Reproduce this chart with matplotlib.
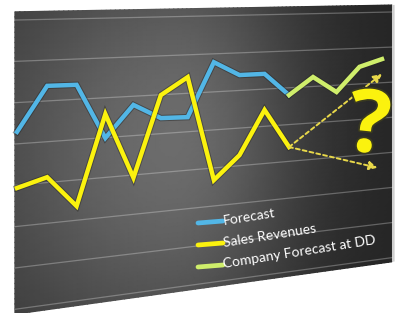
import numpy as np
import matplotlib
matplotlib.use("Agg")
import matplotlib.pyplot as plt
import matplotlib.transforms as mtransforms
import matplotlib.patheffects as pe

# ---------------- data ----------------
x_idx = list(range(15))
forecast = [4.29, 5.37, 5.36, 3.99, 4.78, 4.40, 4.38, 5.78, 5.41, 5.41, 4.80]
sales_revenues = [2.93, 3.13, 2.35, 4.59, 2.93, 4.99, 5.42, 2.68, 3.28, 4.44, 3.39]
company_forecast = [4.80, 5.26, 4.81, 5.48, 5.67]          # x = 10..14
arrow_up_end = (14.0, 5.25)
arrow_down_end = (13.8, 2.60)
grid_values = [0, 1, 2, 3, 4, 5, 6, 7]
legend_labels = ["Forecast", "Sales Revenues", "Company Forecast at DD"]

BLUE = "#52b6e6"
YELLOW = "#fbf20e"
GREEN = "#cfee6b"

W, H = 399, 313
fig = plt.figure(figsize=(W / 100, H / 100), dpi=100)
fig.patch.set_facecolor("white")
ax = fig.add_axes([0, 0, 1, 1])
ax.set_xlim(0, 1)
ax.set_ylim(0, 1)
ax.axis("off")


def homography(src, dst):
    A, b = [], []
    for (x, y), (u, v) in zip(src, dst):
        A.append([x, y, 1, 0, 0, 0, -u * x, -u * y]); b.append(u)
        A.append([0, 0, 0, x, y, 1, -v * x, -v * y]); b.append(v)
    h = np.linalg.solve(np.array(A, float), np.array(b, float))
    return np.append(h, 1).reshape(3, 3)


class Persp(mtransforms.Transform):
    input_dims = 2
    output_dims = 2
    is_separable = False
    has_inverse = True

    def __init__(self, M):
        super().__init__()
        self.M = M

    def transform_non_affine(self, values):
        v = np.asarray(values, float).reshape(-1, 2)
        hom = np.column_stack([v, np.ones(len(v))]) @ self.M.T
        return hom[:, :2] / hom[:, 2:3]

    def inverted(self):
        return Persp(np.linalg.inv(self.M))


def fpx(px, py):
    return (px / W, 1 - py / H)


Hm = homography([(0, 7), (14, 7), (0, 0), (14, 0)],
                [fpx(17, 20), fpx(382, 12.2), fpx(17, 309), fpx(382, 259)])
trans = Persp(Hm) + fig.transFigure

# ---------------- panel background ----------------
x0, x1, y0, y1 = -0.07, 14.45, -0.12, 7.2
gx = np.linspace(x0, x1, 90)
gy = np.linspace(y0, y1, 60)
GX, GY = np.meshgrid(gx, gy)
ax_len = np.where(GX < 5.5, 7.7, 5.0)
val = 36 + 72 * np.exp(-((GX - 5.5) / ax_len) ** 2 - ((GY - 3.8) / 6.0) ** 2)
ax.pcolormesh(GX, GY, val, cmap="gray", vmin=0, vmax=255,
              shading="gouraud", transform=trans, zorder=0)

# board edge on the right
ex = [x1, x1 + 0.12, x1 + 0.12, x1]
ey = [y0, y0, y1, y1]
ax.fill(ex, ey, color="#cfcfcf", transform=trans, zorder=0.5, lw=0)

# grid lines
for g in grid_values:
    ax.plot([x0, x1], [g, g], color="white", alpha=0.28, lw=0.9,
            transform=trans, zorder=1)

# ---------------- data lines ----------------
shadow = [pe.Stroke(linewidth=4.6, foreground="#222222", alpha=0.45), pe.Normal()]
ax.plot(x_idx[:11], forecast, color=BLUE, lw=3.2, transform=trans,
        solid_joinstyle="miter", zorder=3, path_effects=shadow)
ax.plot(x_idx[10:], company_forecast, color=GREEN, lw=3.2, transform=trans,
        solid_joinstyle="miter", zorder=3, path_effects=shadow)
ax.plot(x_idx[:11], sales_revenues, color=YELLOW, lw=3.2, transform=trans,
        solid_joinstyle="miter", zorder=4, path_effects=shadow)

# dotted arrows
start = (x_idx[10], sales_revenues[10])
for end in (arrow_up_end, arrow_down_end):
    ax.annotate("", xy=end, xycoords=trans, xytext=start, textcoords=trans,
                arrowprops=dict(arrowstyle="-|>,head_length=0.5,head_width=0.25",
                                color="#e8d84a", lw=1.4, linestyle=(0, (2, 1.6)),
                                shrinkA=0, shrinkB=0), zorder=5)

# question mark
ax.text(*fpx(369, 129), "?", transform=fig.transFigure, fontsize=63,
        family="Open Sans", fontweight="bold", color=YELLOW,
        ha="center", va="center", rotation=-6, zorder=6,
        path_effects=[pe.Stroke(linewidth=2.5, foreground="#3a3a20"), pe.Normal()])

# ---------------- legend ----------------
legend_colors = [BLUE, YELLOW, GREEN]
swatch_y = [222, 244, 266]
text_y = [225, 247, 268]
for lab, col, sy, ty in zip(legend_labels, legend_colors, swatch_y, text_y):
    (ax0, ay0), (ax1, ay1) = fpx(198, sy + 1), fpx(223, sy - 1)
    ax.plot([ax0, ax1], [ay0, ay1], color=col, lw=3.4,
            solid_capstyle="round", transform=fig.transFigure, zorder=6)
    ax.text(*fpx(224, ty), lab, transform=fig.transFigure, fontsize=10,
            family="Lato", color="white", ha="left", va="baseline",
            rotation=9, rotation_mode="anchor", zorder=6)

fig.savefig("out.png", dpi=100, facecolor="white")
